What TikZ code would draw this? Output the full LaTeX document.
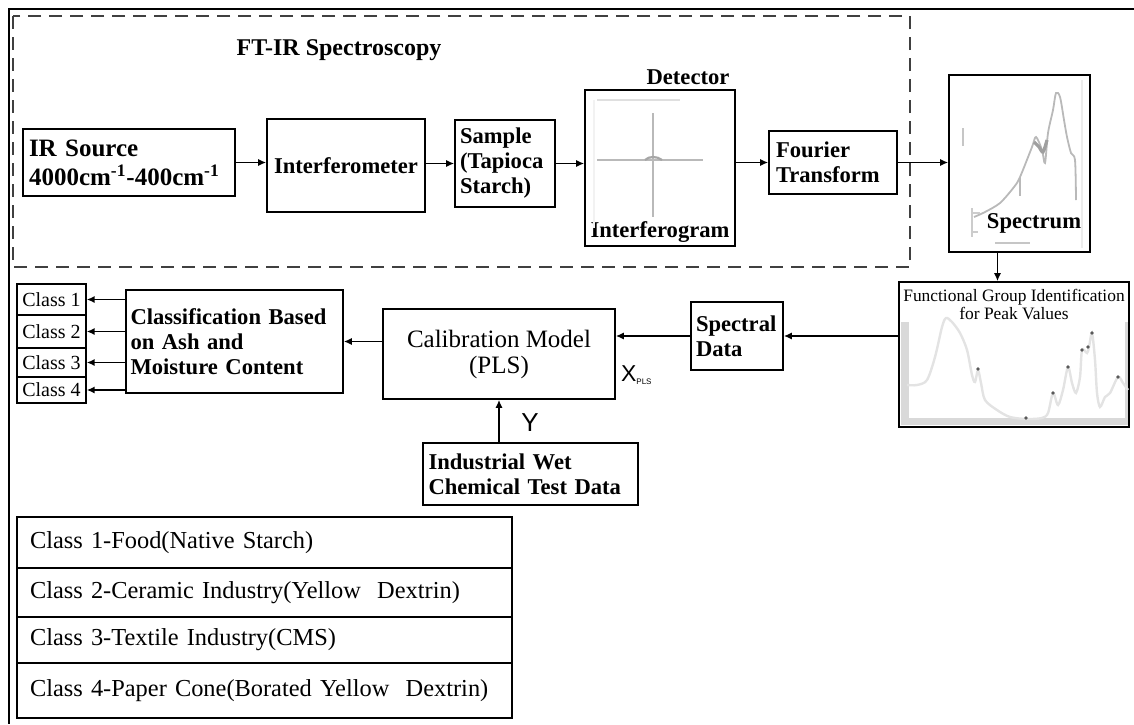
\documentclass[tikz,border=0pt]{standalone}
\usepackage{fontspec}
\setmainfont{Liberation Serif}
\newfontfamily\arialfont{Liberation Sans}
\usetikzlibrary{arrows.meta}

\tikzset{
  blk/.style={draw, line width=0.8pt, inner xsep=3.5pt, inner ysep=2pt},
  bl/.style={font=\fontsize{11.3}{12.5}\selectfont\bfseries},
  rm/.style={font=\fontsize{12.5}{13}\selectfont},
  arr/.style={-{Latex[length=4pt,width=3.6pt]}, line width=0.8pt},
  trace/.style={gray!55, line width=0.9pt},
  faint/.style={gray!25, line width=0.9pt},
  clsbox/.style={draw, line width=0.7pt, minimum width=34.5pt, inner sep=0pt,
    font=\fontsize{10}{11}\selectfont},
  tabrow/.style={draw, line width=0.7pt, minimum width=247.5pt, text width=234.5pt,
    align=left, inner xsep=6.5pt, font=\fontsize{12.2}{14}\selectfont},
}

\begin{document}
\begin{tikzpicture}[x=0.5pt, y=-0.5pt]
\useasboundingbox (0,0) rectangle (1134,724);

% frame and FT-IR group
\draw[line width=1.1pt] (1134,9) -- (9,9) -- (9,724);
\draw[dash pattern=on 6.5pt off 4pt, line width=0.8pt, black!75] (13,16) rectangle (910,267);
\node[bl, font=\fontsize{12}{13}\selectfont\bfseries] (ftir) at (339,50) {FT-IR Spectroscopy};

% top row
\node[blk, bl, font=\fontsize{12.5}{14.5}\selectfont\bfseries, minimum width=106pt, minimum height=33.5pt,
  text width=100pt, align=left, inner xsep=3pt]
  (irs) at (129,162.5) {IR Source\\4000cm\textsuperscript{-1}-400cm\textsuperscript{-1}};
\node[blk, bl, minimum width=79pt, minimum height=46.5pt] (ifm) at (346,165.5) {Interferometer};
\node[blk, bl, minimum width=50pt, minimum height=43.5pt, text width=45pt, align=left, inner xsep=2.5pt]
  (smp) at (505,163.5) {Sample\\(Tapioca\\Starch)};
\node[blk, minimum width=75pt, minimum height=78pt] (det) at (660,168) {};
\node[bl] (detlbl) at (688,77) {Detector};
\node[bl] (igram) at (660,232) {Interferogram};
\node[blk, bl, minimum width=64pt, minimum height=31.5pt, text width=57pt, align=left]
  (fft) at (833,162.5) {Fourier\\Transform};
\node[blk, minimum width=70.5pt, minimum height=88.5pt] (spm) at (1019.5,163.5) {};
\node[bl] (spmlbl) at (1034,223) {Spectrum};

% interferogram trace
\draw[faint] (597,100) -- (680,100);
\draw[faint, gray!10] (594,100) -- (594,228);
\draw[trace] (597,160) -- (703,160);
\draw[trace] (653,113) -- (653,217);
\draw[gray!70, line width=1.1pt] (645,160) .. controls (649,156) and (657,156) .. (662,160);

% spectrum trace
\draw[gray!15, line width=0.7pt] (1082,80) -- (1082,248);
\draw[trace] plot[smooth, tension=0.5] coordinates {(974,217) (985,212) (1000,203) (1014,187)
  (1020,177) (1032,147) (1036,137) (1042,150) (1045,163) (1048,133) (1053,110) (1056,93)
  (1060,97) (1064,120) (1067,137) (1071,153) (1075,160) (1076,200)};
\draw[gray!75, line width=1.6pt] plot[smooth] coordinates {(1034,142) (1039,147) (1043,152) (1047,140)};
\draw[trace] (1020,177) -- (1020,196);
\draw[gray!40, line width=0.6pt] (972,208) -- (972,237) (972,213) -- (980,213) (972,232) -- (978,232);
\draw[gray!45, line width=1.4pt] (963,128) -- (963,146);
\draw[gray!45, line width=0.9pt] (995,243) -- (1030,243);

% functional group box
\node[blk, minimum width=115pt, minimum height=72.5pt] (fgi) at (1014,354.5) {};
\node[font=\fontsize{8.7}{9}\selectfont, align=center] (fgilbl) at (1014,304)
  {Functional Group Identification\\for Peak Values};
\fill[gray!30] (901,322) rectangle (909,425);
\fill[gray!30] (1125,322) rectangle (1128,425);
\fill[gray!30] (901,418) rectangle (1128,425);
\draw[gray!22, line width=1.2pt] plot[smooth, tension=0.5] coordinates {(907,385) (917,385)
  (927,380) (935,357) (942,327) (946,318) (952,322) (960,333) (967,350) (972,375) (975,382)
  (978,370) (981,383) (985,400) (997,410) (1010,417) (1027,419) (1042,418) (1048,413)
  (1053,393) (1058,405) (1063,390) (1068,367) (1072,383) (1076,393) (1080,377) (1082,350)
  (1087,353) (1089,347) (1092,333) (1095,360) (1097,393) (1100,407) (1105,397) (1110,393)
  (1118,377) (1123,383) (1128,390)};
\foreach \p in {(978,369), (1026,418), (1053,393), (1068,367), (1082,350), (1088,347), (1092,333), (1118,377)}
  \fill[gray!70!black] \p circle (0.9pt);

% middle row
\node[blk, bl, minimum width=46pt, minimum height=34pt, text width=41pt, align=left, inner xsep=2.5pt]
  (spd) at (737,336) {Spectral\\Data};
\node[blk, rm, minimum width=116pt, minimum height=45pt, align=center] (cal) at (499,354)
  {Calibration Model\\(PLS)};
\node[blk, bl, minimum width=108.5pt, minimum height=51.5pt, text width=104pt, align=left, inner xsep=2.25pt]
  (cls) at (234.5,341.5) {Classification Based\\on Ash and\\Moisture Content};
\node[clsbox, minimum height=15.5pt] (c1) at (51.5,299.5) {Class 1};
\node[clsbox, minimum height=16.5pt] (c2) at (51.5,331.5) {Class 2};
\node[clsbox, minimum height=14.5pt] (c3) at (51.5,362.5) {Class 3};
\node[clsbox, minimum height=13pt] (c4) at (51.5,390) {Class 4};
\node[blk, bl, minimum width=107.5pt, minimum height=31pt, text width=102pt, align=left, inner xsep=2.75pt]
  (wet) at (530.5,474) {Industrial Wet\\Chemical Test Data};
\node[font=\arialfont\fontsize{13}{13}\selectfont] (ylbl) at (530,423) {Y};
\node[font=\arialfont\fontsize{11.5}{11}\selectfont, anchor=west] (xpls) at (614,375)
  {X\textsubscript{\fontsize{4}{4}\selectfont PLS}};

% arrows
\draw[arr] (irs.east) -- (irs.east -| ifm.west);
\draw[arr] (smp.west -| ifm.east) -- (smp.west);
\draw[arr] (smp.east) -- (smp.east -| det.west);
\draw[arr] (fft.west -| det.east) -- (fft.west);
\draw[arr] (fft.east) -- (fft.east -| spm.west);
\coordinate (sdrop) at ([xshift=-11pt]spm.south);
\draw[arr] (sdrop) -- (sdrop |- fgi.north);
\draw[arr] (spd.east -| fgi.west) -- (spd.east);
\draw[arr] (spd.west) -- (spd.west -| cal.east);
\draw[arr] (cls.east -| cal.west) -- (cls.east);
\foreach \c in {c1,c2,c3,c4}
  \draw[arr] (\c.east -| cls.west) -- (\c.east);
\draw[arr] (cal.south |- wet.north) -- (cal.south);

% legend table
\node[tabrow, minimum height=25.5pt] (t1) at (264.5,542.5) {Class 1-Food(Native Starch)};
\node[tabrow, minimum height=24.5pt] (t2) at (264.5,592.5) {Class 2-Ceramic Industry(Yellow\ \ Dextrin)};
\node[tabrow, minimum height=23pt] (t3) at (264.5,640) {Class 3-Textile Industry(CMS)};
\node[tabrow, minimum height=27.5pt] (t4) at (264.5,690.5) {Class 4-Paper Cone(Borated Yellow\ \ Dextrin)};
\end{tikzpicture}
\end{document}
